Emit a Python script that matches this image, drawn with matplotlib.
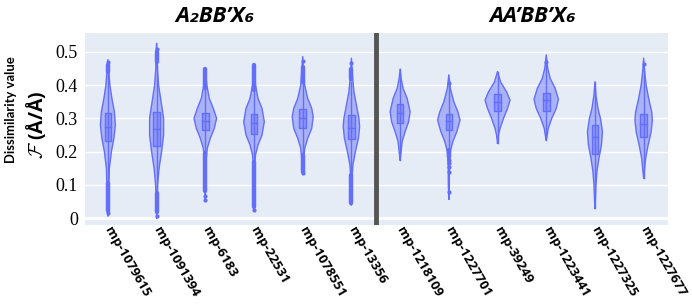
import matplotlib
matplotlib.use("Agg")
import matplotlib.pyplot as plt
import numpy as np

plt.rcParams['mathtext.fontset'] = 'cm'

categories = ["mp-1079615", "mp-1091394", "mp-6183", "mp-22531", "mp-1078551", "mp-13356",
              "mp-1218109", "mp-1227701", "mp-39249", "mp-1223441", "mp-1227325", "mp-1227677"]

# violin density profiles (value, relative density)
prof_vals = [
    [0.007, 0.05, 0.1, 0.15, 0.2, 0.24, 0.28, 0.32, 0.36, 0.40, 0.44, 0.477],
    [0.0, 0.05, 0.1, 0.15, 0.2, 0.25, 0.3, 0.35, 0.4, 0.45, 0.5, 0.526],
    [0.054, 0.1, 0.15, 0.18, 0.21, 0.24, 0.27, 0.30, 0.33, 0.36, 0.40, 0.451],
    [0.025, 0.1, 0.16, 0.19, 0.22, 0.25, 0.29, 0.33, 0.36, 0.40, 0.461],
    [0.135, 0.18, 0.21, 0.24, 0.27, 0.305, 0.33, 0.36, 0.40, 0.45, 0.486],
    [0.04, 0.08, 0.12, 0.16, 0.2, 0.24, 0.275, 0.30, 0.34, 0.38, 0.43, 0.481],
    [0.175, 0.2, 0.23, 0.26, 0.29, 0.32, 0.36, 0.39, 0.42, 0.448],
    [0.057, 0.1, 0.15, 0.2, 0.23, 0.26, 0.295, 0.32, 0.35, 0.39, 0.431],
    [0.225, 0.25, 0.27, 0.30, 0.33, 0.355, 0.38, 0.41, 0.441],
    [0.235, 0.25, 0.27, 0.30, 0.33, 0.357, 0.39, 0.42, 0.45, 0.491],
    [0.029, 0.06, 0.1, 0.14, 0.18, 0.22, 0.26, 0.30, 0.33, 0.37, 0.41],
    [0.12, 0.15, 0.18, 0.22, 0.26, 0.295, 0.32, 0.36, 0.40, 0.44, 0.481],
]
prof_dens = [
    [0, 0.6, 1, 1.5, 3.5, 6, 7.5, 6.5, 4, 2, 1, 0],
    [0, 0.5, 1, 2.5, 5, 7, 7, 4.5, 2, 0.8, 0.5, 0],
    [0, 0.5, 0.7, 1, 2, 5, 9, 11.3, 8, 4, 1.5, 0],
    [0, 0.5, 0.8, 1.5, 4, 8, 10.3, 8, 4, 1.5, 0],
    [0, 1, 2, 5, 9, 10.5, 9, 5, 2, 0.8, 0],
    [0, 0.5, 0.7, 1.5, 4, 7, 8.2, 7.5, 5, 2.5, 1, 0],
    [0, 1, 2, 5, 8.5, 10, 7, 3, 1, 0],
    [0, 0.5, 0.6, 1.5, 4, 8, 11.2, 9, 5, 1.5, 0],
    [0, 1, 2.5, 6, 10, 12.5, 9, 3, 0],
    [0, 1, 2, 5.5, 10, 12.2, 9, 4, 1.5, 0],
    [0, 0.5, 1, 2, 4, 6.5, 7.5, 5.5, 3, 1, 0],
    [0, 1, 2, 4.5, 7.5, 8.7, 8, 5, 2.5, 1, 0],
]

q1 = [0.232, 0.217, 0.265, 0.252, 0.27, 0.237, 0.285, 0.265, 0.322, 0.323, 0.193, 0.245]
med = [0.273, 0.268, 0.292, 0.285, 0.30, 0.27, 0.315, 0.292, 0.35, 0.355, 0.245, 0.282]
q3 = [0.315, 0.318, 0.317, 0.313, 0.328, 0.31, 0.342, 0.313, 0.372, 0.377, 0.28, 0.313]
whisk_lo = [0.104, 0.075, 0.195, 0.17, 0.19, 0.13, 0.175, 0.205, 0.225, 0.235, 0.029, 0.12]
whisk_hi = [0.436, 0.46, 0.386, 0.38, 0.406, 0.41, 0.448, 0.40, 0.441, 0.46, 0.41, 0.45]

# dense outlier runs (lo, hi) and isolated outliers
outlier_runs = [
    [(0.02, 0.104), (0.44, 0.46)],
    [(0.019, 0.075), (0.47, 0.50)],
    [(0.08, 0.195), (0.39, 0.45)],
    [(0.034, 0.17), (0.386, 0.46)],
    [(0.14, 0.19), (0.41, 0.455)],
    [(0.044, 0.13), (0.42, 0.45)],
    [],
    [(0.185, 0.205)],
    [], [], [], [],
]
outlier_pts = [
    [0.47, 0.015],
    [0.51, 0.005],
    [0.065, 0.054],
    [0.025],
    [0.474, 0.135],
    [0.466],
    [],
    [0.407, 0.175, 0.165, 0.155, 0.14, 0.079],
    [],
    [0.47],
    [],
    [0.464],
]

groups = ["A₂BB’X₆", "AA’BB’X₆"]

C = '#636EFA'
PX = 48.7  # pixels per category

fig = plt.figure(figsize=(6.92, 3.05), dpi=100)
ax = fig.add_axes([85/692, 80/305, 583/692, 192/305])
ax.set_facecolor('#E5ECF6')
ax.set_xlim(-0.47, 11.5)
ax.set_ylim(-0.021, 0.557)
for s in ax.spines.values():
    s.set_visible(False)
ax.set_axisbelow(True)
ax.yaxis.grid(True, color='white', lw=1)
ax.axhline(0, color='white', lw=2, zorder=0.5)
ax.set_yticks([0, 0.1, 0.2, 0.3, 0.4, 0.5])
ax.set_yticklabels(['0', '0.1', '0.2', '0.3', '0.4', '0.5'], family='Liberation Serif', fontsize=13)
ax.tick_params(axis='y', length=0, pad=5)
ax.tick_params(axis='x', length=0, pad=2)

xs = np.arange(len(categories))
for i in xs:
    v = np.array(prof_vals[i])
    w = np.array(prof_dens[i]) / PX
    ax.fill_betweenx(v, i - w, i + w, facecolor=C, alpha=0.45, lw=0, zorder=2)
    ax.plot(np.concatenate([i - w, (i + w)[::-1]]), np.concatenate([v, v[::-1]]),
            color=C, lw=1, zorder=3)
    ax.plot([i, i], [whisk_lo[i], whisk_hi[i]], color=C, lw=1, zorder=3)
    bw = 0.068
    ax.add_patch(plt.Rectangle((i - bw, q1[i]), 2 * bw, q3[i] - q1[i],
                               facecolor=C, alpha=0.45, edgecolor='none', zorder=4))
    ax.add_patch(plt.Rectangle((i - bw, q1[i]), 2 * bw, q3[i] - q1[i],
                               facecolor='none', edgecolor=C, lw=1, zorder=5))
    ax.plot([i - bw, i + bw], [med[i], med[i]], color=C, lw=1, zorder=5)
    for lo, hi in outlier_runs[i]:
        ax.plot([i, i], [lo, hi], color=C, lw=3.2, solid_capstyle='round', zorder=5)
    if outlier_pts[i]:
        ax.plot([i] * len(outlier_pts[i]), outlier_pts[i], 'o', color=C, ms=3,
                mec='none', zorder=5)

ax.axvline(5.5, color='#555555', lw=3.5, zorder=6)

ax.set_xticks(xs)
ax.set_xticklabels(categories, rotation=-60, ha='left', va='center',
                   rotation_mode='anchor', family='Open Sans', fontweight='bold', fontsize=9.5)

fig.text(215/692, 1 - 16/305, groups[0], ha='center', va='center', family=['Open Sans', 'DejaVu Sans'],
         fontweight='bold', style='italic', fontsize=16)
fig.text(533/692, 1 - 16/305, groups[1], ha='center', va='center', family=['Open Sans', 'DejaVu Sans'],
         fontweight='bold', style='italic', fontsize=16)

fig.text(11/692, 1 - 110/305, "Dissimilarity value", rotation=90, ha='center', va='center',
         family='Lato', fontweight='bold', fontsize=9.4)
fig.text(36/692, 1 - 125/305, r"$\mathcal{F}$ (Å/Å)", rotation=90, ha='center', va='center',
         family='Open Sans', fontweight='bold', fontsize=14)

fig.savefig('out.png', dpi=100)
